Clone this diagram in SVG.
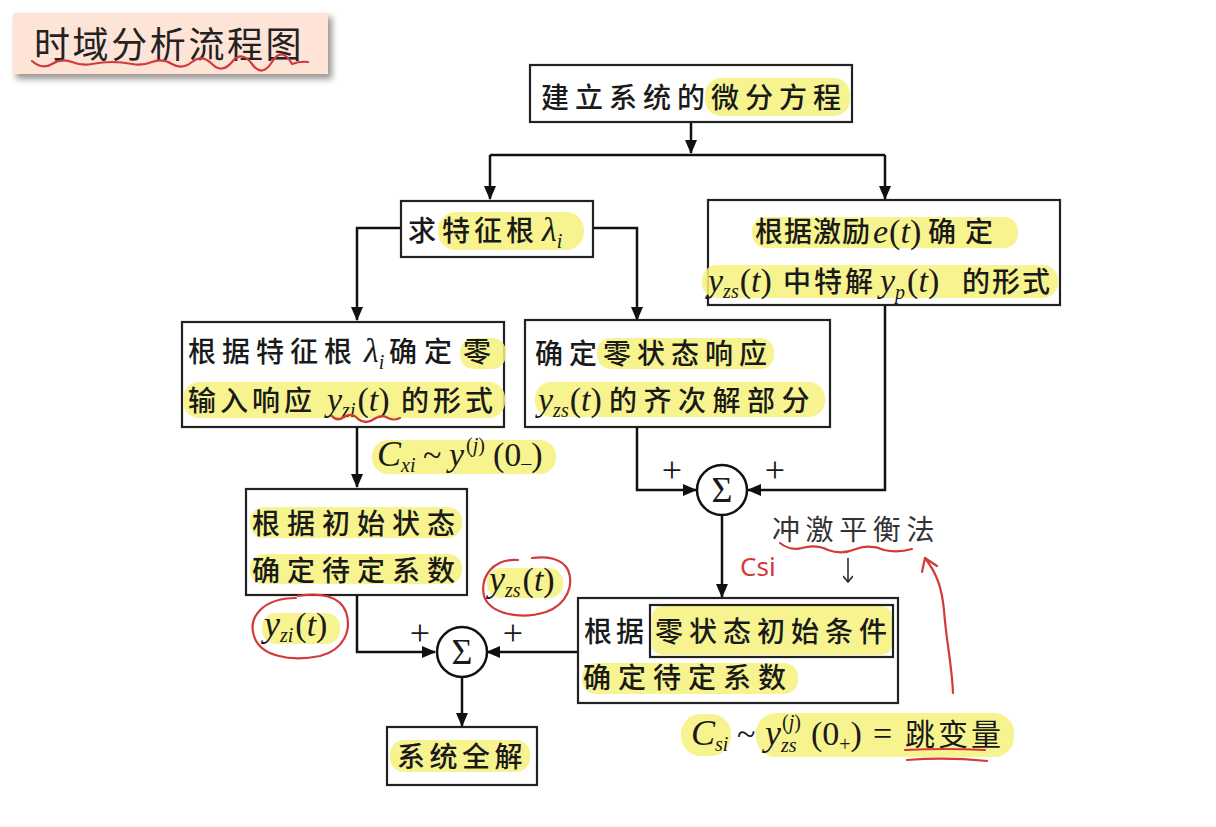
<svg xmlns="http://www.w3.org/2000/svg" width="1216" height="827" viewBox="0 0 1216 827">
<defs>
<style>
.bx{fill:#fff;stroke:#222;stroke-width:2.2}
.hl{fill:#f6f27c;opacity:0.85}
.t{font-family:"Noto Sans CJK SC","Noto Sans CJK JP",sans-serif;font-size:28px;fill:#1a1a1a;font-weight:500}
.m{font-family:"Liberation Serif",serif;font-size:34px;fill:#1a1a1a}
.i{font-style:italic}
.s{font-size:20px}
.c{fill:none;stroke:#111;stroke-width:2.5}
.sg{fill:#fff;stroke:#111;stroke-width:2.5}
.red{fill:none;stroke:#d23a3a;stroke-width:2.2;stroke-linecap:round;stroke-linejoin:round}
</style>
<marker id="ah" markerWidth="14" markerHeight="12" refX="13" refY="6" orient="auto" markerUnits="userSpaceOnUse"><path d="M0,0 L14,6 L0,12 z" fill="#111"/></marker>
<marker id="ahs" markerWidth="10" markerHeight="10" refX="5" refY="9" orient="0" markerUnits="userSpaceOnUse"><path d="M0,3 L5,9 L10,3" fill="none" stroke="#222" stroke-width="1.5"/></marker>
<filter id="sh" x="-10%" y="-20%" width="130%" height="160%"><feGaussianBlur stdDeviation="3"/></filter>
</defs>
<rect width="1216" height="827" fill="#fff"/>

<g id="title">
<rect x="16" y="17" width="316" height="62" fill="#9a9592" filter="url(#sh)"/>
<rect x="13" y="13" width="315" height="61" fill="#fde4d6"/>
<text x="34" y="58" style="font-family:'Noto Sans CJK SC',sans-serif;font-size:36px;letter-spacing:2.6px;fill:#222">时域分析流程图</text>
<path class="red" d="M32,61 q10,9 20,3 t20,-2 t20,2 t20,-2 t20,2 t20,-2 t20,2 t20,-2 t20,2 t20,-2 t20,2 t20,-2 t20,2 q8,-3 16,-2"/>
</g>

<g id="connectors">
<path class="c" d="M691,122 V153" marker-end="url(#ah)"/>
<path class="c" d="M490,155 H885"/>
<path class="c" d="M490,155 V199" marker-end="url(#ah)"/>
<path class="c" d="M885,155 V199" marker-end="url(#ah)"/>
<path class="c" d="M401,228 H357 V320" marker-end="url(#ah)"/>
<path class="c" d="M593,228 H637 V320" marker-end="url(#ah)"/>
<path class="c" d="M357,427 V487" marker-end="url(#ah)"/>
<path class="c" d="M637,427 V490 H696" marker-end="url(#ah)"/>
<path class="c" d="M885,305 V490 H748" marker-end="url(#ah)"/>
<path class="c" d="M722,515 V597" marker-end="url(#ah)"/>
<path class="c" d="M357,595 V652 H435" marker-end="url(#ah)"/>
<path class="c" d="M578,652 H487" marker-end="url(#ah)"/>
<path class="c" d="M462,677 V726" marker-end="url(#ah)"/>
<path d="M848,558 V582" stroke="#222" stroke-width="1.5" marker-end="url(#ahs)"/>
</g>

<g id="n-top">
<rect class="bx" x="530" y="65" width="322" height="57"/>
<rect class="hl" x="705" y="78" width="145" height="38" rx="16"/>
<text class="t" x="541" y="108" style="letter-spacing:6px">建立系统的微分方程</text>
</g>

<g id="n-root">
<rect class="bx" x="401" y="201" width="192" height="56"/>
<rect class="hl" x="438" y="212" width="146" height="38" rx="18"/>
<text class="t" y="241"><tspan x="408">求</tspan><tspan x="442" style="letter-spacing:4px">特征根</tspan></text>
<text class="m" y="241"><tspan x="542" class="i">λ</tspan><tspan class="s i" dy="7">i</tspan></text>
</g>

<g id="n-excite">
<rect class="bx" x="708" y="200" width="352" height="105"/>
<rect class="hl" x="752" y="217" width="266" height="31" rx="14"/>
<rect class="hl" x="702" y="265" width="356" height="33" rx="15"/>
<text class="t" y="242"><tspan x="755" style="letter-spacing:1px">根据激励</tspan><tspan x="928" style="letter-spacing:9px">确定</tspan></text>
<text class="m" y="243"><tspan x="873" class="i">e</tspan><tspan dx="1">(</tspan><tspan class="i">t</tspan><tspan>)</tspan></text>
<text class="t" y="292"><tspan x="783" style="letter-spacing:3px">中特解</tspan><tspan x="962" style="letter-spacing:2px">的形式</tspan></text>
<text class="m" y="292"><tspan x="708" class="i">y</tspan><tspan class="s i" dy="6">zs</tspan><tspan dy="-6" dx="1">(</tspan><tspan class="i">t</tspan><tspan>)</tspan><tspan x="880" class="i">y</tspan><tspan class="s i" dy="7">p</tspan><tspan dy="-7" dx="2">(</tspan><tspan class="i">t</tspan><tspan>)</tspan></text>
</g>

<g id="n-zi">
<rect class="bx" x="182" y="322" width="322" height="105"/>
<rect class="hl" x="460" y="338" width="46" height="31" rx="14"/>
<rect class="hl" x="183" y="382" width="322" height="36" rx="16"/>
<text class="t" y="362"><tspan x="188" style="letter-spacing:6px">根据特征根</tspan><tspan x="389" style="letter-spacing:7px">确定</tspan><tspan x="463">零</tspan></text>
<text class="m" y="362"><tspan x="364" class="i">λ</tspan><tspan class="s i" dy="7">i</tspan></text>
<text class="t" y="411"><tspan x="188" style="letter-spacing:4px">输入响应</tspan><tspan x="401" style="letter-spacing:4px">的形式</tspan></text>
<text class="m" y="411"><tspan x="327" class="i">y</tspan><tspan class="s i" dy="6">zi</tspan><tspan dy="-6" dx="2">(</tspan><tspan class="i">t</tspan><tspan>)</tspan></text>
<path class="red" d="M332,416 q5,6 12,1 q8,-5 14,2 q8,6 16,0 q8,-5 14,-1 q6,3 12,0"/>
</g>

<g id="n-zs">
<rect class="bx" x="525" y="320" width="305" height="107"/>
<rect class="hl" x="597" y="338" width="177" height="31" rx="14"/>
<rect class="hl" x="535" y="382" width="290" height="35" rx="16"/>
<text class="t" x="535" y="364" style="letter-spacing:6px">确定零状态响应</text>
<text class="m" y="411"><tspan x="538" class="i">y</tspan><tspan class="s i" dy="6">zs</tspan><tspan dy="-6" dx="1">(</tspan><tspan class="i">t</tspan><tspan>)</tspan></text>
<text class="t" x="609" y="411" style="letter-spacing:6.5px">的齐次解部分</text>
</g>

<g id="sum1">
<circle class="sg" cx="722" cy="490" r="25"/>
<text class="m" x="722" y="502" text-anchor="middle" style="font-size:36px">Σ</text>
<text class="m" x="672" y="482" text-anchor="middle" style="font-size:36px">+</text>
<text class="m" x="775" y="482" text-anchor="middle" style="font-size:36px">+</text>
</g>

<g id="lbl-cxi">
<rect class="hl" x="372" y="440" width="184" height="34" rx="16"/>
<text class="m" y="466"><tspan x="377" class="i" style="font-size:36px">C</tspan><tspan class="s i" dy="6">xi</tspan><tspan x="423" dy="-6">~</tspan><tspan x="449" class="i">y</tspan><tspan class="s" dy="-14" dx="2">(</tspan><tspan class="s i">j</tspan><tspan class="s">)</tspan><tspan x="493" dy="14">(0</tspan><tspan class="s" dy="4">–</tspan><tspan dy="-4">)</tspan></text>
</g>

<g id="n-init">
<rect class="bx" x="246" y="489" width="221" height="106"/>
<rect class="hl" x="250" y="507" width="212" height="31" rx="14"/>
<rect class="hl" x="250" y="554" width="212" height="30" rx="14"/>
<text class="t" x="252" y="534" style="letter-spacing:7px">根据初始状态</text>
<text class="t" x="252" y="581" style="letter-spacing:7px">确定待定系数</text>
</g>

<g id="n-zscoef">
<rect class="bx" x="578" y="598" width="320" height="105"/>
<rect class="hl" x="652" y="606" width="240" height="49" rx="10"/>
<rect class="hl" x="582" y="663" width="216" height="31" rx="14"/>
<rect x="650" y="605" width="243" height="52" fill="none" stroke="#222" stroke-width="2.2"/>
<text class="t" y="642"><tspan x="584" style="letter-spacing:4px">根据</tspan><tspan x="655" style="letter-spacing:6px">零状态初始条件</tspan></text>
<text class="t" x="583" y="688" style="letter-spacing:7px">确定待定系数</text>
</g>

<g id="lbl-impulse">
<text class="t" x="772" y="540" style="letter-spacing:5.6px;fill:#333;font-weight:400">冲激平衡法</text>
<path class="red" d="M780,543 q10,8 22,5 q14,-4 26,2 q14,5 28,-1 q14,-5 28,1 q14,3 28,-1"/>
<text x="740" y="576" style="font-family:'Noto Sans',sans-serif;font-size:26px;fill:#d23a3a">Csi</text>
<path class="red" d="M953,693 C952,665 946,640 944,610 C942,590 938,575 925,558"/>
<path class="red" d="M922,572 L925,558 L937,566"/>
</g>

<g id="lbl-yzi">
<rect class="hl" x="262" y="613" width="78" height="31" rx="14"/>
<text class="m" y="636"><tspan x="264" class="i" style="font-size:36px">y</tspan><tspan class="s i" dy="6">zi</tspan><tspan dy="-6" dx="2">(</tspan><tspan class="i">t</tspan><tspan>)</tspan></text>
<path class="red" d="M296,598 C262,598 248,618 254,636 C260,656 290,662 320,656 C344,650 352,630 346,612 C340,596 320,592 298,596"/>
</g>

<g id="lbl-yzs">
<rect class="hl" x="487" y="568" width="76" height="30" rx="14"/>
<text class="m" y="591"><tspan x="489" class="i" style="font-size:36px">y</tspan><tspan class="s i" dy="6">zs</tspan><tspan dy="-6" dx="2">(</tspan><tspan class="i">t</tspan><tspan>)</tspan></text>
<path class="red" d="M518,560 C492,558 480,578 484,596 C490,614 520,620 546,612 C568,604 574,584 568,570 C562,558 546,556 532,558"/>
</g>

<g id="sum2">
<circle class="sg" cx="462" cy="652" r="25"/>
<text class="m" x="462" y="664" text-anchor="middle" style="font-size:36px">Σ</text>
<text class="m" x="420" y="645" text-anchor="middle" style="font-size:36px">+</text>
<text class="m" x="513" y="645" text-anchor="middle" style="font-size:36px">+</text>
</g>

<g id="n-total">
<rect class="bx" x="387" y="727" width="150" height="58"/>
<rect class="hl" x="390" y="740" width="140" height="32" rx="14"/>
<text class="t" x="397" y="767" style="letter-spacing:4.5px">系统全解</text>
</g>

<g id="lbl-csi">
<rect class="hl" x="681" y="714" width="50" height="42" rx="20"/>
<rect class="hl" x="756" y="713" width="258" height="44" rx="20"/>
<text class="m" y="745"><tspan x="691" class="i" style="font-size:36px">C</tspan><tspan class="s i" dy="6">si</tspan><tspan x="737" dy="-6">~</tspan><tspan x="765" class="i" style="font-size:36px">y</tspan><tspan x="782" dy="-16" class="s">(</tspan><tspan class="s i">j</tspan><tspan class="s">)</tspan><tspan x="781" dy="23" class="s i">zs</tspan><tspan x="811" dy="-7">(0</tspan><tspan class="s" dy="6">+</tspan><tspan dy="-6">)</tspan><tspan x="873">=</tspan></text>
<text class="t" x="905" y="745" style="letter-spacing:3px;font-size:30px;font-weight:400">跳变量</text>
<path class="red" d="M905,750 q40,-2 80,0"/>
<path class="red" d="M907,760 q40,-3 80,1"/>
</g>
</svg>
